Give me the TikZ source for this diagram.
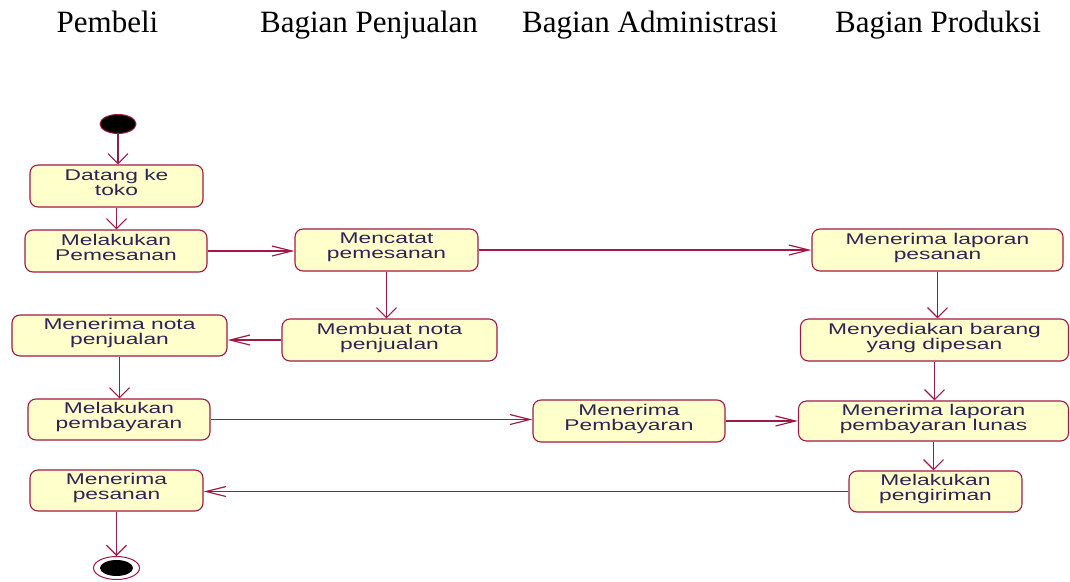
\documentclass[tikz,border=0pt]{standalone}
\usepackage{fontspec}
\setmainfont{Liberation Serif}
\newfontfamily\actfont[FakeStretch=1.47]{Liberation Sans}
\usetikzlibrary{arrows.meta,shapes.geometric}
\definecolor{umlline}{RGB}{160,25,70}
\definecolor{umlfill}{RGB}{255,255,204}
\definecolor{umltext}{RGB}{45,35,85}
\tikzset{
  act/.style={draw=umlline, fill=umlfill, line width=1.1pt, rounded corners=8pt,
    inner sep=0pt, align=center, text=umltext, text depth=8pt,
    font=\actfont\fontsize{15.5pt}{15pt}\selectfont},
  lane/.style={anchor=base, font=\fontsize{31pt}{36pt}\selectfont},
  flow/.style={draw=umlline, line width=1.2pt},
  vflow/.style={flow, -{Straight Barb[length=10pt,width=20pt]}},
  hflow/.style={flow, -{Straight Barb[length=20pt,width=10pt]}},
}
\begin{document}
\begin{tikzpicture}[x=1pt,y=-1pt]
\useasboundingbox (0,0) rectangle (1070,581);
% lane titles
\node[lane] (l1) at (107.5,32) {Pembeli};
\node[lane] (l2) at (369,32) {Bagian Penjualan};
\node[lane] (l3) at (650,32) {Bagian Administrasi};
\node[lane] (l4) at (938,32) {Bagian Produksi};
% start / end
\node[ellipse, fill=black, draw=umlline, line width=1pt, minimum width=36pt, minimum height=19pt, inner sep=0pt] (start) at (118,124) {};
\node[ellipse, fill=white, draw=umlline, line width=1pt, minimum width=46pt, minimum height=23pt, inner sep=0pt] (end) at (116.5,568) {};
\node[ellipse, fill=black, minimum width=33pt, minimum height=16pt, inner sep=0pt] (endin) at (end.center) {};
% activities
\node[act, minimum width=173pt, minimum height=42pt] (datang) at (116.5,186) {Datang ke\\toko};
\node[act, minimum width=182pt, minimum height=42pt] (pesan) at (116,251) {Melakukan\\Pemesanan};
\node[act, minimum width=183pt, minimum height=42pt] (catat) at (386.5,250) {Mencatat\\pemesanan};
\node[act, minimum width=215pt, minimum height=42pt] (buatnota) at (389.5,340) {Membuat nota\\penjualan};
\node[act, minimum width=251pt, minimum height=42pt] (lappesan) at (937.5,250) {Menerima laporan\\pesanan};
\node[act, minimum width=268pt, minimum height=42pt] (sedia) at (934.5,340) {Menyediakan barang\\yang dipesan};
\node[act, minimum width=270pt, minimum height=40pt] (lunas) at (933.5,421) {Menerima laporan\\pembayaran lunas};
\node[act, minimum width=173pt, minimum height=41pt] (kirim) at (935.5,491.5) {Melakukan\\pengiriman};
\node[act, minimum width=215pt, minimum height=41pt] (terimanota) at (119.5,335.5) {Menerima nota\\penjualan};
\node[act, minimum width=182pt, minimum height=41pt] (bayar) at (119,419.5) {Melakukan\\pembayaran};
\node[act, minimum width=192pt, minimum height=42pt] (terimabayar) at (629,421) {Menerima\\Pembayaran};
\node[act, minimum width=173pt, minimum height=41pt] (terimapesan) at (116.5,490.5) {Menerima\\pesanan};
% flows
\draw[vflow] (start) -- (start |- datang.north);
\draw[vflow] (datang) -- (datang |- pesan.north);
\draw[hflow] (pesan.east) -- (pesan.east -| catat.west);
\draw[hflow] (catat.east) -- (catat.east -| lappesan.west);
\draw[vflow] (catat.south) -- (catat.south |- buatnota.north);
\draw[hflow] (buatnota.west) -- (buatnota.west -| terimanota.east);
\draw[vflow] (terimanota.south) -- (terimanota.south |- bayar.north);
\draw[hflow] (bayar.east) -- (bayar.east -| terimabayar.west);
\draw[hflow] (terimabayar.east) -- (terimabayar.east -| lunas.west);
\draw[vflow] (lappesan.south) -- (lappesan.south |- sedia.north);
\draw[vflow] (sedia.south) -- (sedia.south |- lunas.north);
\draw[vflow] (lunas.south) -- (lunas.south |- kirim.north);
\draw[hflow] (kirim.west) -- (kirim.west -| terimapesan.east);
\draw[vflow] (terimapesan.south) -- (terimapesan.south |- end.north);
\end{tikzpicture}
\end{document}
